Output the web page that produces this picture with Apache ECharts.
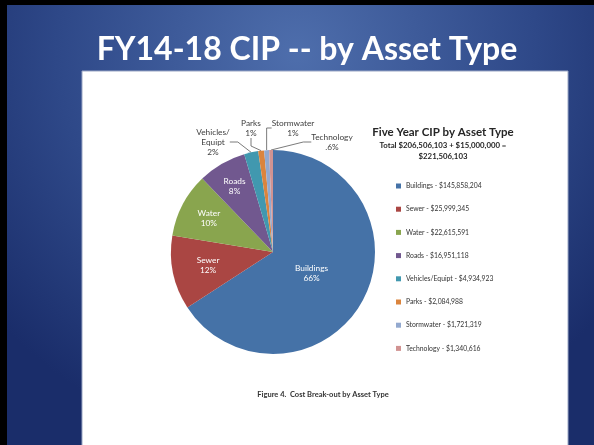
<!DOCTYPE html>
<html>
<head>
<meta charset="utf-8">
<script src="https://cdn.jsdelivr.net/npm/echarts@6/dist/echarts.min.js"></script>
<style>
html,body{margin:0;padding:0;background:#1c2f6c}
#Chart{width:594px;height:445px}
</style>
</head>
<body>
<div id="Chart"></div>
<script>
// data
var categories=['Buildings','Sewer','Water','Roads','Vehicles/Equipt','Parks','Stormwater','Technology']
var values=[145858204,25999345,22615591,16951118,4934923,2084988,1721319,1340616]
var sliceLabels=['Buildings','Sewer','Water','Roads','Vehicles/\nEquipt','Parks','Stormwater','Technology']
var pctLabels=['66%','12%','10%','8%','2%','1%','1%','.6%']
var colors=['#4572A7','#AA4643','#89A54E','#71588F','#4198AF','#DB843D','#93A9CF','#D19392']

var font='Lato'
var pieCenter=[273,252],pieRadius=102
//内部标签离圆心的比例
var insideRatio=[0.43,0.65,0.71,0.75]
//外部标签位置
var outsidePos={4:[213,142],5:[251,128],6:[293,128],7:[332,142]}

function money(v){
    return '$'+v.toLocaleString('en-US')
}

function drawChar(){
    var myChart=echarts.init(document.getElementById('Chart'))
    var total=0
    $each(values,function(v){ total+=v })
    //每块中间角度
    var midAngle=[],acc=0
    $each(values,function(v){
        midAngle.push((acc+v/2)/total*Math.PI*2)
        acc+=v
    })
    var pieData=[]
    $each(categories,function(name,i){
        var inside=i<4
        pieData.push({
            name:name,
            value:values[i],
            itemStyle:{color:colors[i]},
            label:{
                position:inside?'inside':'outside',
                color:inside?'#ffffff':'#404040'
            },
            labelLine:{show:!inside}
        })
    })
    var option={
        animation:false,
        graphic:[
            {type:'rect',silent:true,z:-10,shape:{x:0,y:0,width:594,height:445},
                style:{fill:{type:'radial',x:0.5,y:0.12,r:0.9,colorStops:[
                    {offset:0,color:'#4e6eac'},{offset:0.6,color:'#2e4888'},{offset:1,color:'#1a2d6a'}]}}},
            {type:'rect',silent:true,z:-9,shape:{x:0,y:0,width:7,height:445},style:{fill:'#000'}},
            {type:'rect',silent:true,z:-9,shape:{x:0,y:0,width:594,height:5},style:{fill:'#000'}},
            {type:'rect',silent:true,z:-8,shape:{x:82,y:71,width:486,height:380},
                style:{fill:'#ffffff',stroke:'#9aa6c4',lineWidth:1}}
        ],
        title:[
            {
                text:'FY14-18 CIP -- by Asset Type',
                left:302,top:29,textAlign:'center',
                textStyle:{color:'#ffffff',fontFamily:font,fontWeight:'bold',fontSize:32}
            },
            {
                text:'Five Year CIP by Asset Type',
                subtext:'Total $206,506,103 + $15,000,000 =\n$221,506,103',
                left:443,top:126,textAlign:'center',itemGap:2,padding:0,
                textStyle:{color:'#262626',fontFamily:font,fontWeight:'bold',fontSize:11.5},
                subtextStyle:{color:'#262626',fontFamily:font,fontWeight:'bold',fontSize:7.8,lineHeight:11}
            },
            {
                text:'Figure 4.  Cost Break-out by Asset Type',
                left:323,top:391,textAlign:'center',padding:0,
                textStyle:{color:'#333333',fontFamily:font,fontWeight:'bold',fontSize:7.5}
            }
        ],
        legend:{
            orient:'vertical',
            left:391,top:176,
            itemWidth:5,itemHeight:5,itemGap:13.2,
            icon:'rect',
            data:categories,
            formatter:function(name){
                return name+' - '+money(values[categories.indexOf(name)])
            },
            textStyle:{color:'#333333',fontFamily:font,fontSize:6.8,lineHeight:10}
        },
        series:[{
            type:'pie',
            center:pieCenter,
            radius:pieRadius,
            startAngle:90,
            avoidLabelOverlap:false,
            label:{
                fontFamily:font,fontSize:8.3,lineHeight:10,
                formatter:function(p){
                    return sliceLabels[p.dataIndex]+'\n'+pctLabels[p.dataIndex]
                }
            },
            labelLine:{length:8,length2:8,lineStyle:{color:'#595959',width:0.8}},
            labelLayout:function(p){
                var i=p.dataIndex
                if(outsidePos[i]){
                    return {x:outsidePos[i][0],y:outsidePos[i][1],align:'center',verticalAlign:'middle'}
                }
                var r=pieRadius*insideRatio[i],a=midAngle[i]
                return {x:pieCenter[0]+r*Math.sin(a),y:pieCenter[1]-r*Math.cos(a),align:'center',verticalAlign:'middle'}
            },
            data:pieData
        }]
    }
    myChart.setOption(option)
}

function $each(arr,fn){
    for(var i=0;i<arr.length;i++) fn(arr[i],i)
}

drawChar()
</script>
</body>
</html>
